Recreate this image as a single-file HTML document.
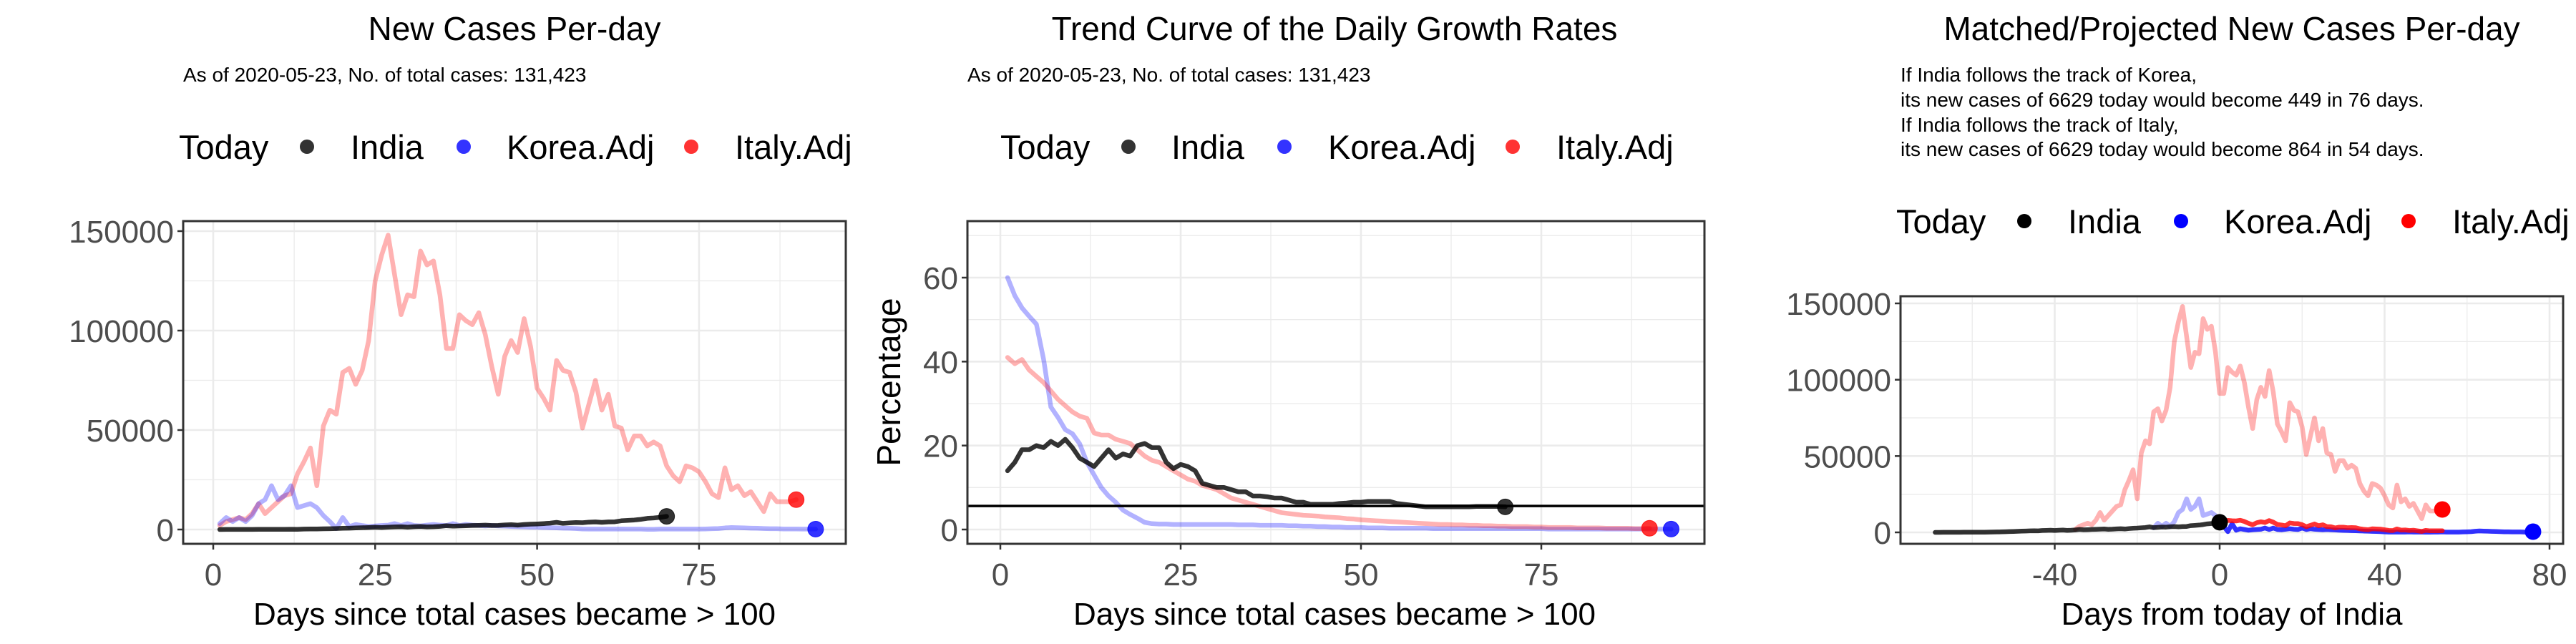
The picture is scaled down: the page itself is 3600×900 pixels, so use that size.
<!DOCTYPE html>
<html><head><meta charset="utf-8"><style>
html,body{margin:0;padding:0;background:#fff;}
svg{display:block;font-family:"Liberation Sans",sans-serif;}
</style></head><body>
<svg id="chart" width="3600" height="900" viewBox="0 0 3600 900" xmlns="http://www.w3.org/2000/svg"></svg>
<script>
// ---- data ----
const indiaCases = [10,20,30,30,40,50,60,80,90,100,120,150,100,200,250,300,350,400,500,600,700,800,900,1000,1100,1000,1200,1300,1400,1200,1400,1500,1300,1400,1600,1900,1700,1800,1900,2000,2100,2200,2000,2100,2300,2400,2200,2500,2700,2800,3000,3200,3600,3100,3300,3500,3400,3700,3800,3600,3800,3900,4400,4600,4800,5100,5600,5800,6100,6629];
const koreaCases = [3000,6000,4000,6000,4000,7000,13000,15000,22000,15000,17000,22000,11000,12000,13000,11000,7000,4000,500,6000,1500,2500,2000,1500,1800,2000,2200,3000,2000,3000,2000,1800,2200,2500,2200,2000,3000,2000,2500,2200,2000,1800,2000,1800,1700,1500,1400,1300,1200,1100,1000,900,800,700,600,500,300,200,200,200,200,200,300,200,200,200,100,100,200,200,300,200,200,200,200,300,400,500,800,1000,900,800,700,600,500,400,400,300,300,300,200,200,200];
const italyCases = [2000,4000,5000,6000,5000,8000,13000,8000,11000,14000,17000,18000,28000,34000,41000,22000,52000,60000,58000,79000,81000,73000,80000,95000,125000,138000,148000,128000,108000,118000,117000,140000,133000,135000,118000,91000,91000,108000,105000,103000,109000,98000,82000,68000,87000,95000,89000,106000,92000,71000,66000,60000,85000,80000,79000,69000,51000,63000,75000,60000,68000,52000,51000,40000,47000,47000,42000,44000,42000,32000,27000,24000,32000,31000,29000,24000,18000,16000,31000,20000,22000,17000,19000,14000,9000,18000,14000,14000,14000,15000];
const indiaRate = [14,16,19,19,20,19.5,21,20,21.5,19.5,17,16,15,17,19,17,18,17.5,20,20.5,19.5,19.5,16,14.5,15.5,15,14,11,10.5,10,10,9.5,9,9,8,8,7.8,7.5,7.5,7,6.5,6.5,6,6,6,6,6.2,6.3,6.5,6.5,6.7,6.7,6.7,6.7,6.2,6,5.8,5.6,5.4,5.4,5.4,5.4,5.4,5.4,5.4,5.5,5.5,5.5,5.5,5.4];
const koreaRate = [60,55.7,52.8,50.8,48.9,40.5,29.2,26.7,23.8,22.8,20.4,16,13,10,8,6.5,4.6,3.6,2.7,1.7,1.4,1.3,1.3,1.2,1.2,1.2,1.2,1.2,1.2,1.2,1.2,1.2,1.1,1.1,1.1,1.0,1.0,1.0,1.0,0.9,0.9,0.8,0.8,0.7,0.7,0.6,0.6,0.5,0.5,0.5,0.4,0.4,0.4,0.3,0.3,0.3,0.3,0.3,0.3,0.2,0.2,0.2,0.2,0.2,0.2,0.2,0.2,0.2,0.2,0.2,0.2,0.2,0.2,0.2,0.2,0.1,0.1,0.1,0.1,0.1,0.1,0.1,0.1,0.1,0.1,0.1,0.1,0.1,0.1,0.1,0.1,0.1,0.1];
const italyRate = [41,39.5,40.5,38,36.5,35,33,31,29.5,28,27,26.5,23,22.5,22.5,21.5,21,20.5,19,17.5,16.5,16,15,14,13,12,11.5,10.5,10,9.5,8.5,7.5,7,6.5,6,5.5,5,4.5,4,3.8,3.6,3.4,3.3,3.2,3.0,2.9,2.8,2.6,2.5,2.3,2.2,2.1,2.0,1.9,1.8,1.7,1.6,1.5,1.4,1.3,1.2,1.2,1.1,1.1,1.0,1.0,0.9,0.9,0.8,0.8,0.7,0.7,0.7,0.6,0.6,0.5,0.5,0.5,0.5,0.4,0.4,0.4,0.4,0.3,0.3,0.3,0.3,0.2,0.2,0.3];
const trendLine = 5.6;
const koreaShift = -17;
const italyShift = -36;
const koreaEndProjected = 449;
const tickCases = [0,50000,100000,150000];
const tickDays = [0,25,50,75];
const tickRate = [0,20,40,60];
const tickFromToday = [-40,0,40,80];

// ---- helpers ----
const svg = document.getElementById('chart');
const NS = 'http://www.w3.org/2000/svg';
const LW = 6.5;
function mk(tag, attrs, parent){
  const e = document.createElementNS(NS, tag);
  for (const k in attrs) e.setAttribute(k, attrs[k]);
  (parent||svg).appendChild(e);
  return e;
}
function txt(s, attrs, parent){ const e = mk('text', attrs, parent); e.textContent = s; return e; }
function scale(d0,d1,r0,r1){ return v => r0 + (v-d0)/(d1-d0)*(r1-r0); }

function frame(p){
  const g = mk('g', {});
  
  
  p.minorX.forEach(v=>mk('line',{x1:p.x(v),x2:p.x(v),y1:p.top,y2:p.bottom,stroke:'#ebebeb','stroke-width':1.3},g));
  p.minorY.forEach(v=>mk('line',{y1:p.y(v),y2:p.y(v),x1:p.left,x2:p.right,stroke:'#ebebeb','stroke-width':1.3},g));
  p.xt.forEach(v=>mk('line',{x1:p.x(v),x2:p.x(v),y1:p.top,y2:p.bottom,stroke:'#ebebeb','stroke-width':2.6},g));
  p.yt.forEach(v=>mk('line',{y1:p.y(v),y2:p.y(v),x1:p.left,x2:p.right,stroke:'#ebebeb','stroke-width':2.6},g));
}
function axes(p){
  const b = mk('rect',{x:p.left,y:p.top,width:p.right-p.left,height:p.bottom-p.top,fill:'none',stroke:'#333','stroke-width':3});
  
  
  const gx = mk('g',{});
  
  
  p.xt.forEach(v=>{
    mk('line',{x1:p.x(v),x2:p.x(v),y1:p.bottom,y2:p.bottom+8,stroke:'#333','stroke-width':2.5},gx);
    txt(String(v),{x:p.x(v),y:p.bottom+58,'text-anchor':'middle','font-size':44,fill:'#4d4d4d'},gx);
  });
  const gy = mk('g',{});
  
  
  p.yt.forEach(v=>{
    mk('line',{x1:p.left-8,x2:p.left,y1:p.y(v),y2:p.y(v),stroke:'#333','stroke-width':2.5},gy);
    txt(String(v),{x:p.left-13,y:p.y(v)+16,'text-anchor':'end','font-size':44,fill:'#4d4d4d'},gy);
  });
}
function line(p, xs, ys, color, op, w, name){
  let d = '';
  xs.forEach((xv,i)=>{ d += (i?'L':'M') + p.x(xv).toFixed(1) + ',' + p.y(ys[i]).toFixed(1); });
  const e = mk('path',{d:d,fill:'none',stroke:color,'stroke-opacity':op,'stroke-width':w||LW,'stroke-linejoin':'round','stroke-linecap':'round'});
  
  
  return e;
}
function dot(p, xv, yv, color, op, name){
  const e = mk('circle',{cx:p.x(xv),cy:p.y(yv),r:11,fill:color,'fill-opacity':op,stroke:color,'stroke-opacity':op,'stroke-width':1});
  
  
}
function legend(y, pos, op, name){
  const g = mk('g',{});
  
  
  txt('Today',{x:pos[0],y:y+17,'font-size':47,fill:'#000'},g);
  const cols = ['#000','#0000ff','#ff0000'];
  const labels = ['India','Korea.Adj','Italy.Adj'];
  for (let i=0;i<3;i++){
    const it = mk('g',{},g);
    
    
    mk('circle',{cx:pos[1+2*i],cy:y,r:10,fill:cols[i],'fill-opacity':op},it);
    txt(labels[i],{x:pos[2+2*i],y:y+17,'font-size':47,fill:'#000'},it);
  }
}
function days(n, off){ return Array.from({length:n},(_,i)=>i+1+(off||0)); }

// ===== Panel 1 =====
{
  const p = {name:'new-cases', left:256, right:1182, top:309, bottom:760,
    x: scale(0,25,298,524.3), y: scale(0,150000,740,323),
    xt: tickDays, yt: tickCases, minorX:[12.5,37.5,62.5,87.5], minorY:[25000,75000,125000]};
  const t = txt('New Cases Per-day',{x:719,y:56,'text-anchor':'middle','font-size':46,fill:'#000'});
   
  const s = txt('As of 2020-05-23, No. of total cases: 131,423',{x:256,y:114,'font-size':28,fill:'#000'});
   
  legend(205,[250,429,490,648,708,966,1027],0.8,'new-cases-legend');
  frame(p);
  line(p, days(italyCases.length), italyCases, '#ff0000', 0.3, LW, 'italy-cases-line');
  line(p, days(koreaCases.length), koreaCases, '#0000ff', 0.3, LW, 'korea-cases-line');
  line(p, days(indiaCases.length), indiaCases, '#000', 0.8, LW, 'india-cases-line');
  dot(p, indiaCases.length, indiaCases[indiaCases.length-1], '#000', 0.8, 'india-today-point');
  dot(p, koreaCases.length, koreaCases[koreaCases.length-1], '#0000ff', 0.8, 'korea-today-point');
  dot(p, italyCases.length, italyCases[italyCases.length-1], '#ff0000', 0.8, 'italy-today-point');
  axes(p);
  const xl = txt('Days since total cases became > 100',{x:719,y:873,'text-anchor':'middle','font-size':44,fill:'#000'});
   
}

// ===== Panel 2 =====
{
  const p = {name:'growth-rate', left:1352, right:2382, top:309, bottom:760,
    x: scale(0,25,1398,1650), y: scale(0,60,740,388),
    xt: tickDays, yt: tickRate, minorX:[12.5,37.5,62.5,87.5], minorY:[10,30,50,70]};
  const t = txt('Trend Curve of the Daily Growth Rates',{x:1865,y:56,'text-anchor':'middle','font-size':46,fill:'#000'});
   
  const s = txt('As of 2020-05-23, No. of total cases: 131,423',{x:1352,y:114,'font-size':28,fill:'#000'});
   
  legend(205,[1398,1577,1637,1795,1856,2114,2175],0.8,'growth-rate-legend');
  frame(p);
  line(p, days(koreaRate.length), koreaRate, '#0000ff', 0.3, LW, 'korea-rate-line');
  line(p, days(italyRate.length), italyRate, '#ff0000', 0.3, LW, 'italy-rate-line');
  line(p, days(indiaRate.length), indiaRate, '#000', 0.8, LW, 'india-rate-line');
  const h = mk('line',{x1:p.left,x2:p.right,y1:p.y(trendLine),y2:p.y(trendLine),stroke:'#000','stroke-width':3.5});
   
  dot(p, indiaRate.length, indiaRate[indiaRate.length-1], '#000', 0.8, 'india-rate-today-point');
  dot(p, koreaRate.length, koreaRate[koreaRate.length-1], '#0000ff', 0.8, 'korea-rate-today-point');
  dot(p, italyRate.length, italyRate[italyRate.length-1], '#ff0000', 0.8, 'italy-rate-today-point');
  axes(p);
  const xl = txt('Days since total cases became > 100',{x:1865,y:873,'text-anchor':'middle','font-size':44,fill:'#000'});
   
  const yl = txt('Percentage',{x:0,y:0,'text-anchor':'middle','font-size':46,fill:'#000',transform:'translate(1258,534) rotate(-90)'});
   
}

// ===== Panel 3 =====
{
  const p = {name:'projected', left:2656, right:3582, top:414, bottom:760,
    x: scale(0,40,3102,3332.5), y: scale(0,150000,744,424),
    xt: tickFromToday, yt: tickCases, minorX:[-60,-20,20,60], minorY:[25000,75000,125000]};
  const t = txt('Matched/Projected New Cases Per-day',{x:3119,y:56,'text-anchor':'middle','font-size':46,fill:'#000'});
   
  const lines = ['If India follows the track of Korea,','its new cases of 6629 today would become 449 in 76 days.','If India follows the track of Italy,','its new cases of 6629 today would become 864 in 54 days.'];
  const ly = [114,149,184,218];
  lines.forEach((l,i)=>{
    const e = txt(l,{x:2656,y:ly[i],'font-size':28,fill:'#000'});
     
  });
  legend(309,[2650,2829,2890,3048,3108,3366,3427],1,'projected-legend');
  frame(p);
  const nI = indiaCases.length;
  const indiaX = days(nI, -nI);
  const todayVal = indiaCases[nI-1];
  const italyX = days(italyCases.length, italyShift);
  const koreaX = days(koreaCases.length, koreaShift);
  line(p, italyX, italyCases, '#ff0000', 0.3, LW, 'italy-matched-line');
  const kIdx = -koreaShift - 1;
  line(p, koreaX.slice(0,kIdx+1), koreaCases.slice(0,kIdx+1), '#0000ff', 0.3, LW, 'korea-matched-line');
  line(p, indiaX, indiaCases, '#000', 0.8, LW, 'india-history-line');
  const kf = todayVal / koreaCases[kIdx];
  const kProj = koreaCases.slice(kIdx).map(v=>v*kf);
  line(p, koreaX.slice(kIdx), kProj, '#0000ff', 0.8, LW, 'korea-projection-line');
  const iIdx = -italyShift - 1;
  const itf = todayVal / italyCases[iIdx];
  const iProj = italyCases.slice(iIdx).map(v=>v*itf);
  line(p, italyX.slice(iIdx), iProj, '#ff0000', 0.8, LW, 'italy-projection-line');
  dot(p, 0, todayVal, '#000', 1, 'india-today-point-projected');
  dot(p, koreaX[koreaX.length-1], koreaEndProjected, '#0000ff', 1, 'korea-end-point');
  dot(p, italyX[italyX.length-1], italyCases[italyCases.length-1], '#ff0000', 1, 'italy-end-point');
  axes(p);
  const xl = txt('Days from today of India',{x:3119,y:873,'text-anchor':'middle','font-size':44,fill:'#000'});
   
}
</script>
</body></html>
